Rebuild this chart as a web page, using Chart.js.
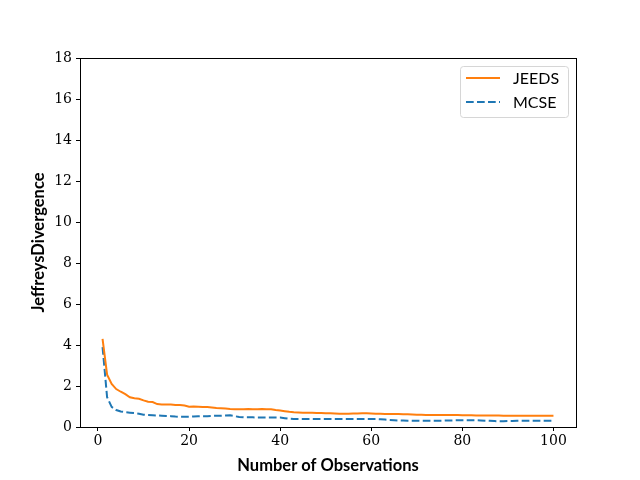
<!DOCTYPE html>
<html>
<head>
<meta charset="utf-8">
<script src="https://cdn.jsdelivr.net/npm/chart.js@4/dist/chart.umd.min.js"></script>
<style>
  html, body { margin: 0; padding: 0; background: #fff; }
  canvas { display: block; }
</style>
</head>
<body>
<canvas id="myChart" width="640" height="480"></canvas>
<script>
// Number of observations (x values)
const observations = Array.from({ length: 100 }, (_, i) => i + 1);

// Jeffreys divergence for JEEDS
const jeedsValues = [
  4.30, 2.55, 2.10, 1.85, 1.72, 1.60, 1.45, 1.40, 1.38, 1.30,
  1.23, 1.22, 1.12, 1.10, 1.10, 1.10, 1.07, 1.07, 1.05, 0.99,
  1.00, 0.99, 0.98, 0.97, 0.95, 0.93, 0.92, 0.90, 0.88, 0.87,
  0.86, 0.87, 0.88, 0.87, 0.86, 0.88, 0.87, 0.87, 0.83, 0.80,
  0.77, 0.74, 0.72, 0.71, 0.70, 0.70, 0.69, 0.68, 0.68, 0.67,
  0.67, 0.66, 0.65, 0.65, 0.65, 0.66, 0.66, 0.67, 0.67, 0.66,
  0.65, 0.65, 0.64, 0.64, 0.64, 0.63, 0.62, 0.62, 0.61, 0.60,
  0.60, 0.59, 0.59, 0.59, 0.58, 0.58, 0.58, 0.58, 0.58, 0.57,
  0.57, 0.57, 0.56, 0.56, 0.56, 0.56, 0.56, 0.56, 0.55, 0.55,
  0.55, 0.55, 0.55, 0.55, 0.55, 0.55, 0.55, 0.55, 0.55, 0.55
];

// Jeffreys divergence for MCSE
const mcseValues = [
  3.90, 1.45, 0.98, 0.83, 0.76, 0.72, 0.70, 0.68, 0.65, 0.60,
  0.58, 0.57, 0.56, 0.55, 0.54, 0.53, 0.51, 0.50, 0.50, 0.50,
  0.51, 0.52, 0.53, 0.53, 0.54, 0.55, 0.55, 0.56, 0.57, 0.53,
  0.49, 0.47, 0.47, 0.47, 0.46, 0.46, 0.46, 0.46, 0.46, 0.46,
  0.43, 0.40, 0.39, 0.39, 0.39, 0.39, 0.39, 0.39, 0.39, 0.39,
  0.39, 0.39, 0.39, 0.39, 0.39, 0.39, 0.39, 0.39, 0.39, 0.39,
  0.39, 0.38, 0.36, 0.34, 0.33, 0.32, 0.32, 0.31, 0.31, 0.31,
  0.30, 0.30, 0.30, 0.30, 0.31, 0.31, 0.32, 0.32, 0.33, 0.33,
  0.33, 0.33, 0.33, 0.32, 0.31, 0.30, 0.29, 0.28, 0.28, 0.29,
  0.29, 0.30, 0.30, 0.30, 0.30, 0.30, 0.30, 0.30, 0.30, 0.30
];

const seriesNames = ['JEEDS', 'MCSE'];
const yTicks = [0, 2, 4, 6, 8, 10, 12, 14, 16, 18];
const xTicks = [0, 20, 40, 60, 80, 100];

const tickFont = { family: 'DejaVu Serif', size: 14 };
const labelFont = { family: 'Lato', size: 16.5, weight: 'bold' };

function toPoints(values) {
  return values.map((v, i) => ({ x: observations[i], y: v }));
}

// Draws the top/right spines and the boxed legend inside the plot
const framePlugin = {
  id: 'frame',
  afterDraw(chart) {
    const { ctx, chartArea: a } = chart;
    ctx.save();
    ctx.strokeStyle = '#000';
    ctx.lineWidth = 1;
    ctx.strokeRect(Math.round(a.left) + 0.5, Math.round(a.top) + 0.5,
      Math.round(a.right - a.left), Math.round(a.bottom - a.top));

    // legend box
    const bx = a.right - 116, by = a.top + 8, bw = 108, bh = 51;
    ctx.fillStyle = 'rgba(255,255,255,0.8)';
    ctx.strokeStyle = '#d6d6d6';
    ctx.beginPath();
    ctx.roundRect(bx + 0.5, by + 0.5, bw, bh, 3);
    ctx.fill();
    ctx.stroke();
    chart.data.datasets.forEach((ds, i) => {
      const ly = by + 12 + i * 24;
      ctx.strokeStyle = ds.borderColor;
      ctx.lineWidth = ds.borderWidth;
      ctx.setLineDash(ds.borderDash || []);
      ctx.beginPath();
      ctx.moveTo(bx + 6, ly);
      ctx.lineTo(bx + 40, ly);
      ctx.stroke();
      ctx.setLineDash([]);
      ctx.fillStyle = '#000';
      ctx.font = '16px Lato';
      ctx.textBaseline = 'middle';
      ctx.fillText(ds.label, bx + 53, ly + 1);
    });
    ctx.restore();
  }
};

function renderChart() {
  const chartConfig = {
    type: 'line',
    data: {
      datasets: [
        {
          label: seriesNames[0],
          data: toPoints(jeedsValues),
          borderColor: '#ff7f0e',
          borderWidth: 2,
          pointRadius: 0,
          fill: false,
          tension: 0
        },
        {
          label: seriesNames[1],
          data: toPoints(mcseValues),
          borderColor: '#1f77b4',
          borderWidth: 2,
          borderDash: [7.7, 3.3],
          pointRadius: 0,
          fill: false,
          tension: 0
        }
      ]
    },
    options: {
      responsive: false,
      animation: false,
      devicePixelRatio: 1,
      layout: { padding: { left: 25, top: 58, right: 64, bottom: 0 } },
      plugins: { legend: { display: false }, tooltip: { enabled: false } },
      scales: {
        x: {
          type: 'linear',
          min: -3.95,
          max: 104.95,
          afterFit: s => { s.height = 53; },
          afterBuildTicks: s => { s.ticks = xTicks.map(v => ({ value: v })); },
          ticks: { font: tickFont, color: '#000', padding: 2, maxRotation: 0 },
          grid: { drawOnChartArea: false, drawTicks: true, tickLength: 4, color: '#000' },
          border: { color: '#000' },
          title: { display: true, text: 'Number of Observations', font: labelFont, color: '#000', padding: { top: 0 } }
        },
        y: {
          min: 0,
          max: 18,
          afterFit: s => { s.width = 55; },
          afterBuildTicks: s => { s.ticks = yTicks.map(v => ({ value: v })); },
          ticks: { font: tickFont, color: '#000', padding: 4 },
          grid: { drawOnChartArea: false, drawTicks: true, tickLength: 4, color: '#000' },
          border: { color: '#000' },
          title: { display: true, text: 'JeffreysDivergence', font: labelFont, color: '#000', padding: { bottom: 0 } }
        }
      }
    },
    plugins: [framePlugin]
  };
  const ctx = document.getElementById('myChart').getContext('2d');
  new Chart(ctx, chartConfig);
}

renderChart();
</script>
</body>
</html>
